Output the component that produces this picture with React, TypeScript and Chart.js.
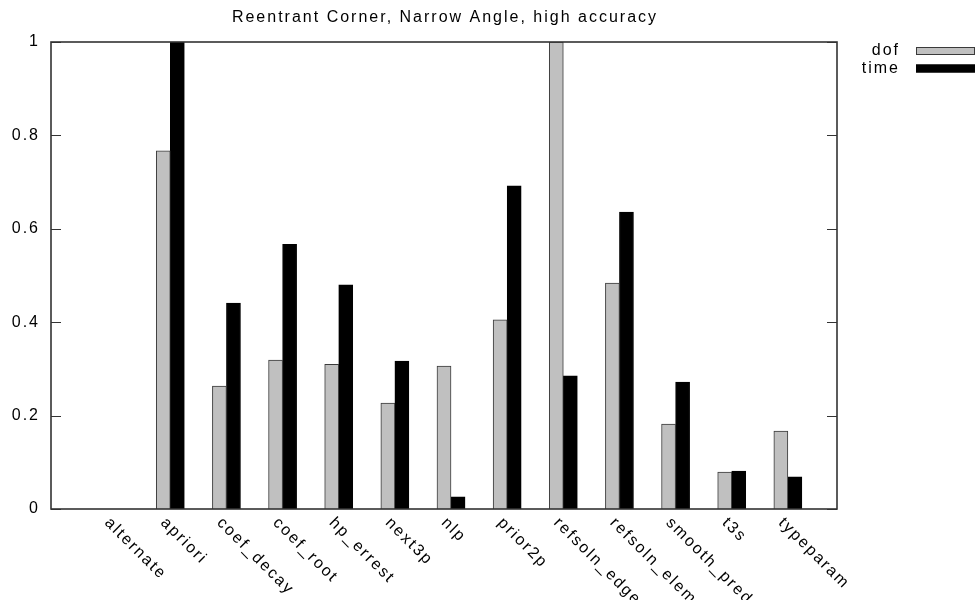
import { useEffect, useRef } from 'react';
import { Chart, registerables } from 'chart.js';

Chart.register(...registerables);

const chartTitle = 'Reentrant Corner, Narrow Angle, high accuracy';

const categories = [
  'alternate',
  'apriori',
  'coef_decay',
  'coef_root',
  'hp_errest',
  'next3p',
  'nlp',
  'prior2p',
  'refsoln_edge',
  'refsoln_elem',
  'smooth_pred',
  't3s',
  'typeparam',
];

const dofValues = [0, 0.767, 0.263, 0.319, 0.31, 0.227, 0.306, 0.405, 1.0, 0.484, 0.182, 0.079, 0.167];
const timeValues = [0, 1.0, 0.441, 0.567, 0.48, 0.317, 0.026, 0.692, 0.285, 0.636, 0.272, 0.081, 0.069];

const seriesNames = ['dof', 'time'];
const yTickStep = 0.2;

const FONT_FAMILY = '"Liberation Sans", Arial, Helvetica, sans-serif';
const FONT = `16px ${FONT_FAMILY}`;
const LETTER_SPACING = '2px';
const FRAME_COLOR = '#333333';

// Each bar is a quarter of a category step; the second series sits one bar to the right.
const BAR_STEP = 0.25;

const gnuplotDecor = {
  id: 'gnuplotDecor',
  beforeDraw(chart: any) {
    chart.ctx.letterSpacing = LETTER_SPACING;
  },
  afterDatasetsDraw(chart: any) {
    const { ctx, chartArea } = chart;
    const { left, right, top, bottom } = chartArea;
    const yScale = chart.scales.y;
    ctx.save();
    ctx.strokeStyle = FRAME_COLOR;
    // inward tick marks on both vertical borders
    ctx.lineWidth = 1;
    yScale.ticks.forEach((t: any) => {
      const y = Math.round(yScale.getPixelForValue(t.value)) + 0.5;
      ctx.beginPath();
      ctx.moveTo(left, y);
      ctx.lineTo(left + 10, y);
      ctx.moveTo(right - 10, y);
      ctx.lineTo(right, y);
      ctx.stroke();
    });
    // plot border
    ctx.lineWidth = 1.6;
    ctx.strokeRect(left, top, right - left, bottom - top);
    ctx.restore();
  },
  afterDraw(chart: any) {
    const { ctx, chartArea } = chart;
    const { left, right, bottom } = chartArea;
    const xScale = chart.scales.x;
    ctx.save();
    ctx.letterSpacing = LETTER_SPACING;
    ctx.font = FONT;
    ctx.fillStyle = '#000';

    // title centred over the plot area
    ctx.textAlign = 'center';
    ctx.textBaseline = 'alphabetic';
    ctx.fillText(chartTitle, (left + right) / 2 + 1, 22);

    // slanted category labels hanging from each tick
    ctx.textAlign = 'left';
    categories.forEach((name, i) => {
      const px = xScale.getPixelForValue(i);
      ctx.save();
      ctx.translate(px - 3.2, bottom + 14.5);
      ctx.rotate(Math.PI / 4);
      ctx.fillText(name, 0, 0);
      ctx.restore();
    });

    // key: name on the left, swatch on the right
    chart.data.datasets.forEach((ds: any, k: number) => {
      const base = 55 + k * 17.5;
      ctx.textAlign = 'right';
      ctx.fillStyle = '#000';
      ctx.fillText(ds.label, chart.width - 77, base);
      const sx = chart.width - 61;
      ctx.fillStyle = ds.backgroundColor;
      ctx.fillRect(sx, base - 8, 59, 8);
      ctx.strokeStyle = ds.borderColor;
      ctx.lineWidth = 1;
      ctx.strokeRect(sx + 0.5, base - 7.5, 58, 7);
    });
    ctx.restore();
  },
};

export default function App() {
  const canvasRef = useRef<HTMLCanvasElement | null>(null);

  useEffect(() => {
    const canvas = canvasRef.current;
    if (!canvas) return;
    const chart = new Chart(canvas, {
      type: 'bar',
      data: {
        datasets: [
          {
            label: seriesNames[0],
            data: dofValues.map((v, i) => ({ x: i, y: v })),
            backgroundColor: '#c0c0c0',
            borderColor: '#3a3a3a',
            borderWidth: 1,
            grouped: false,
            barPercentage: 1,
            categoryPercentage: 1,
          },
          {
            label: seriesNames[1],
            data: timeValues.map((v, i) => ({ x: i + BAR_STEP, y: v })),
            backgroundColor: '#000000',
            borderColor: '#000000',
            borderWidth: 1,
            grouped: false,
            barPercentage: 1,
            categoryPercentage: 1,
          },
        ],
      },
      options: {
        responsive: false,
        animation: false,
        devicePixelRatio: 1,
        layout: { padding: { left: 0, right: 140, top: 42, bottom: 91 } },
        plugins: {
          legend: { display: false },
          title: { display: false },
          tooltip: { enabled: false },
        },
        scales: {
          x: {
            type: 'linear',
            display: false,
            offset: false,
            grid: { offset: false },
            min: -1,
            max: 13,
          },
          y: {
            type: 'linear',
            min: 0,
            max: 1,
            ticks: {
              stepSize: yTickStep,
              padding: 11,
              color: '#000',
              font: { family: FONT_FAMILY, size: 16 },
              callback: (v: any) => String(Math.round(Number(v) * 10) / 10),
            },
            grid: { display: false, drawTicks: false },
            border: { display: false },
            afterFit: (scale: any) => {
              scale.width = 51;
            },
          },
        },
      } as any,
      plugins: [gnuplotDecor],
    });
    return () => chart.destroy();
  }, []);

  return (
    <div style={{ position: 'absolute', left: 0, top: 0, width: 977, height: 600, background: '#fff' }}>
      <canvas ref={canvasRef} width={977} height={600} style={{ display: 'block' }} />
    </div>
  );
}
